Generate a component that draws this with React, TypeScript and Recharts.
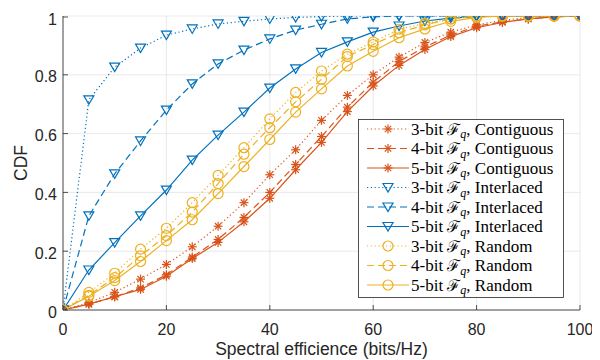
import React from 'react';
import { LineChart, Line, XAxis, YAxis, CartesianGrid, Legend } from 'recharts';

const X = [0, 5, 10, 15, 20, 25, 30, 35, 40, 45, 50, 55, 60, 65, 70, 75, 80, 85, 90, 95, 100];
const X_TICKS = [0, 20, 40, 60, 80, 100];
const Y_TICKS = [0, 0.2, 0.4, 0.6, 0.8, 1];

const contiguous3 = [0, 0.025, 0.06, 0.105, 0.155, 0.215, 0.285, 0.365, 0.46, 0.545, 0.645, 0.73, 0.8, 0.86, 0.91, 0.945, 0.97, 0.985, 0.995, 1, 1];
const contiguous4 = [0, 0.02, 0.045, 0.075, 0.12, 0.18, 0.24, 0.315, 0.4, 0.495, 0.59, 0.69, 0.775, 0.845, 0.895, 0.935, 0.965, 0.98, 0.99, 0.997, 1];
const contiguous5 = [0, 0.02, 0.045, 0.07, 0.115, 0.175, 0.23, 0.3, 0.38, 0.477, 0.57, 0.675, 0.762, 0.832, 0.886, 0.93, 0.96, 0.978, 0.99, 0.997, 1];
const interlaced3 = [0, 0.715, 0.826, 0.891, 0.935, 0.956, 0.973, 0.982, 0.99, 0.995, 0.998, 1, 1, 1, 1, 1, 1, 1, 1, 1, 1];
const interlaced4 = [0, 0.32, 0.463, 0.575, 0.68, 0.769, 0.837, 0.884, 0.922, 0.952, 0.972, 0.99, 0.997, 1, 1, 1, 1, 1, 1, 1, 1];
const interlaced5 = [0, 0.136, 0.229, 0.32, 0.408, 0.51, 0.595, 0.673, 0.755, 0.82, 0.876, 0.912, 0.945, 0.966, 0.983, 0.993, 0.998, 1, 1, 1, 1];
const random3 = [0, 0.06, 0.125, 0.207, 0.278, 0.365, 0.458, 0.552, 0.65, 0.74, 0.813, 0.87, 0.912, 0.955, 0.975, 0.99, 1, 1, 1, 1, 1];
const random4 = [0, 0.05, 0.11, 0.184, 0.253, 0.333, 0.43, 0.53, 0.62, 0.708, 0.785, 0.862, 0.903, 0.943, 0.97, 0.99, 1, 1, 1, 1, 1];
const random5 = [0, 0.047, 0.1, 0.165, 0.236, 0.307, 0.396, 0.488, 0.58, 0.673, 0.752, 0.83, 0.88, 0.926, 0.956, 0.982, 0.995, 1, 1, 1, 1];

const BLUE = '#0072BD';
const ORANGE = '#D95319';
const YELLOW = '#EDB120';
const AX = '#262626';

type Kind = 'asterisk' | 'triangle' | 'circle';
const DASH: Record<number, string | undefined> = { 3: '1.2 2.6', 4: '7 4', 5: undefined };

const SERIES = [
  { key: 'c3', bits: 3, name: 'Contiguous', color: ORANGE, marker: 'asterisk' as Kind, values: contiguous3 },
  { key: 'c4', bits: 4, name: 'Contiguous', color: ORANGE, marker: 'asterisk' as Kind, values: contiguous4 },
  { key: 'c5', bits: 5, name: 'Contiguous', color: ORANGE, marker: 'asterisk' as Kind, values: contiguous5 },
  { key: 'i3', bits: 3, name: 'Interlaced', color: BLUE, marker: 'triangle' as Kind, values: interlaced3 },
  { key: 'i4', bits: 4, name: 'Interlaced', color: BLUE, marker: 'triangle' as Kind, values: interlaced4 },
  { key: 'i5', bits: 5, name: 'Interlaced', color: BLUE, marker: 'triangle' as Kind, values: interlaced5 },
  { key: 'r3', bits: 3, name: 'Random', color: YELLOW, marker: 'circle' as Kind, values: random3 },
  { key: 'r4', bits: 4, name: 'Random', color: YELLOW, marker: 'circle' as Kind, values: random4 },
  { key: 'r5', bits: 5, name: 'Random', color: YELLOW, marker: 'circle' as Kind, values: random5 },
];

const rows = X.map((x, i) => {
  const r: Record<string, number> = { x };
  SERIES.forEach((s) => { r[s.key] = s.values[i]; });
  return r;
});

function Marker({ kind, cx, cy, color }: { kind: Kind; cx: number; cy: number; color: string }) {
  if (cx == null || cy == null || isNaN(cx) || isNaN(cy)) return null;
  if (kind === 'asterisk') {
    const r = 4.5, d = r * 0.707;
    return (
      <g stroke={color} strokeWidth={1.2} fill="none">
        <line x1={cx - r} y1={cy} x2={cx + r} y2={cy} />
        <line x1={cx} y1={cy - r} x2={cx} y2={cy + r} />
        <line x1={cx - d} y1={cy - d} x2={cx + d} y2={cy + d} />
        <line x1={cx - d} y1={cy + d} x2={cx + d} y2={cy - d} />
      </g>
    );
  }
  if (kind === 'triangle') {
    return (
      <polygon
        points={`${cx - 5},${cy - 4} ${cx + 5},${cy - 4} ${cx},${cy + 4.5}`}
        fill="none"
        stroke={color}
        strokeWidth={1.2}
      />
    );
  }
  return <circle cx={cx} cy={cy} r={5} fill="none" stroke={color} strokeWidth={1.2} />;
}

const FONT = '"Liberation Sans", Arial, sans-serif';
const TICK_LEN = 5;
const TICK_FONT = 16;

const BottomTick = (props: any) => {
  const { x, y, payload } = props;
  const axisY = y - 8;
  return (
    <g>
      <line x1={x} y1={axisY} x2={x} y2={axisY - TICK_LEN} stroke={AX} strokeWidth={0.8} />
      <text x={x} y={axisY + 24.5} textAnchor="middle" fontSize={TICK_FONT} fontFamily={FONT} fill={AX}>
        {payload.value}
      </text>
    </g>
  );
};

const LeftTick = (props: any) => {
  const { x, y, payload } = props;
  const axisX = x + 8;
  return (
    <g>
      <line x1={axisX} y1={y} x2={axisX + TICK_LEN} y2={y} stroke={AX} strokeWidth={0.8} />
      <text x={axisX - 6} y={y + 7.5} textAnchor="end" fontSize={TICK_FONT} fontFamily={FONT} fill={AX}>
        {payload.value}
      </text>
    </g>
  );
};

const TopTick = (props: any) => {
  const { x, y } = props;
  return <line x1={x} y1={y} x2={x} y2={y + TICK_LEN} stroke={AX} strokeWidth={0.8} />;
};

const RightTick = (props: any) => {
  const { x, y } = props;
  return <line x1={x} y1={y} x2={x - TICK_LEN} y2={y} stroke={AX} strokeWidth={0.8} />;
};

const LEG_W = 206;
const LEG_ROW = 19.5;
const LEG_H = 179;

const LegendBox = () => (
  <svg width={LEG_W} height={LEG_H} style={{ display: 'block' }}>
    <rect x={0.5} y={0.5} width={LEG_W - 1} height={LEG_H - 1} fill="#fff" stroke={AX} strokeWidth={0.8} />
    {SERIES.map((s, i) => {
      const cy = 10 + LEG_ROW * i;
      return (
        <g key={s.key}>
          <line x1={9} y1={cy} x2={51} y2={cy} stroke={s.color} strokeWidth={1.2} strokeDasharray={DASH[s.bits]} />
          <Marker kind={s.marker} cx={30} cy={cy} color={s.color} />
          <text x={53} y={cy + 5.5} fontSize={17} fontFamily='"Liberation Serif", "DejaVu Serif", serif' fill="#000">
            <tspan>{`${s.bits}-bit `}</tspan>
            <tspan fontFamily='"DejaVu Serif", serif' fontSize={16}>ℱ</tspan>
            <tspan dy={3.5} fontSize={12} fontStyle="italic">q</tspan>
            <tspan dy={-3.5}>{`, ${s.name}`}</tspan>
          </text>
        </g>
      );
    })}
  </svg>
);

export default function App() {
  return (
    <LineChart
      width={592}
      height={352}
      data={rows}
      margin={{ top: 8, right: 20, bottom: 20, left: 15 }}
      style={{ fontFamily: FONT }}
    >
      <CartesianGrid xAxisId="b" yAxisId="l" stroke="#e3e3e3" strokeWidth={0.8} horizontalValues={Y_TICKS} verticalValues={X_TICKS} />
      <XAxis
        xAxisId="b"
        dataKey="x"
        type="number"
        domain={[0, 100]}
        allowDataOverflow
        ticks={X_TICKS}
        tickSize={0}
        tickMargin={8}
        tickLine={false}
        tick={BottomTick}
        height={30}
        stroke={AX}
        axisLine={{ stroke: AX, strokeWidth: 0.8 }}
        label={{ value: 'Spectral efficience (bits/Hz)', position: 'insideBottom', offset: -15, fontSize: 17.5, fill: AX, fontFamily: FONT }}
      />
      <XAxis
        xAxisId="t"
        orientation="top"
        type="number"
        domain={[0, 100]}
        allowDataOverflow
        ticks={X_TICKS}
        tickSize={0}
        tickMargin={0}
        tickLine={false}
        tick={TopTick}
        height={0}
        axisLine={{ stroke: AX, strokeWidth: 0.8 }}
      />
      <YAxis
        yAxisId="l"
        type="number"
        domain={[0, 1]}
        allowDataOverflow
        ticks={Y_TICKS}
        tickSize={0}
        tickMargin={8}
        tickLine={false}
        tick={LeftTick}
        width={40}
        axisLine={{ stroke: AX, strokeWidth: 0.8 }}
        label={{ value: 'CDF', angle: -90, position: 'insideLeft', offset: -2, fontSize: 17.5, fill: AX, fontFamily: FONT, style: { textAnchor: 'middle' } }}
      />
      <YAxis
        yAxisId="r"
        orientation="right"
        type="number"
        domain={[0, 1]}
        allowDataOverflow
        ticks={Y_TICKS}
        tickSize={0}
        tickMargin={0}
        tickLine={false}
        tick={RightTick}
        width={0}
        axisLine={{ stroke: AX, strokeWidth: 0.8 }}
      />
      {SERIES.map((s) => (
        <Line
          key={s.key}
          xAxisId="b"
          yAxisId="l"
          type="linear"
          dataKey={s.key}
          stroke={s.color}
          strokeWidth={1.2}
          strokeDasharray={DASH[s.bits]}
          isAnimationActive={false}
          activeDot={false}
          dot={(p: any) => <Marker key={`${s.key}-${p.index}`} kind={s.marker} cx={p.cx} cy={p.cy} color={s.color} />}
        />
      ))}
      <Legend
        layout="vertical"
        align="center"
        verticalAlign="middle"
        content={() => <LegendBox />}
        wrapperStyle={{ position: 'absolute', left: 350, top: 111, width: LEG_W, height: LEG_H }}
      />
    </LineChart>
  );
}
